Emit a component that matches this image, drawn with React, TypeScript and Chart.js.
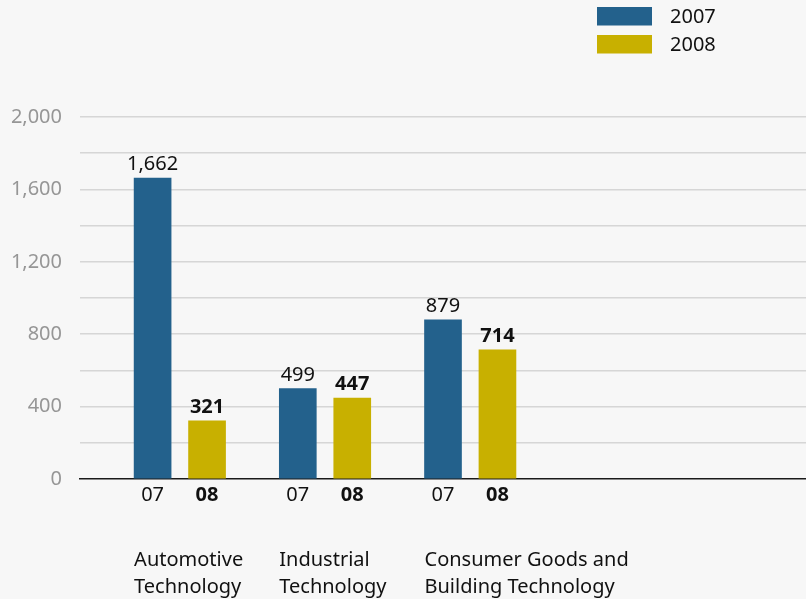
import React, { useEffect, useRef } from "react";
import { Chart, registerables } from "chart.js";

Chart.register(...registerables);

// ---- Data ----
const seriesNames = ["2007", "2008"];
const yearTickLabels = ["07", "08"];
const categoryLines = [
  ["Automotive", "Technology"],
  ["Industrial", "Technology"],
  ["Consumer Goods and", "Building Technology"],
];
const values2007 = [1662, 499, 879];
const values2008 = [321, 447, 714];
const yMax = 2000;
const yStep = 200;
const yLabelStep = 400;

// ---- Layout (slot grid on the category axis) ----
const SLOT_COUNT = 41;
const GROUP_START = [4, 12, 20];
const PAIR_OFFSET = 3;

const COLORS = ["#23618c", "#c8b000"];
const FONT = "'Noto Sans', 'Open Sans', sans-serif";
const FONT_SIZE = 20;

const slotLabels: string[] = Array(SLOT_COUNT).fill("");
const slot2007: (number | null)[] = Array(SLOT_COUNT).fill(null);
const slot2008: (number | null)[] = Array(SLOT_COUNT).fill(null);
GROUP_START.forEach((g, i) => {
  slotLabels[g] = yearTickLabels[0];
  slotLabels[g + PAIR_OFFSET] = yearTickLabels[1];
  slot2007[g] = values2007[i];
  slot2008[g + PAIR_OFFSET] = values2008[i];
});

const fmt = (v: number) => v.toLocaleString("en-US");

const annotationsPlugin = {
  id: "annotations",
  afterDatasetsDraw(chart: any) {
    const ctx = chart.ctx;
    ctx.save();
    // value labels
    chart.data.datasets.forEach((ds: any, di: number) => {
      const meta = chart.getDatasetMeta(di);
      meta.data.forEach((bar: any, idx: number) => {
        const v = ds.data[idx];
        if (v == null) return;
        ctx.font = `${di === 1 ? "bold " : ""}${FONT_SIZE}px ${FONT}`;
        ctx.fillStyle = "#111";
        ctx.textAlign = "center";
        ctx.textBaseline = "alphabetic";
        ctx.fillText(fmt(v), bar.x, bar.y - 8);
      });
    });
    // category names below axis
    const meta0 = chart.getDatasetMeta(0);
    GROUP_START.forEach((g, i) => {
      const bar = meta0.data[g];
      const left = bar.x - bar.width / 2;
      ctx.font = `${FONT_SIZE}px ${FONT}`;
      ctx.fillStyle = "#111";
      ctx.textAlign = "left";
      ctx.textBaseline = "alphabetic";
      categoryLines[i].forEach((line, li) => {
        ctx.fillText(line, left, 566 + li * 27);
      });
    });
    // legend
    seriesNames.forEach((name, i) => {
      ctx.fillStyle = COLORS[i];
      ctx.fillRect(597, 7 + i * 28, 55, 18.5);
      ctx.fillStyle = "#111";
      ctx.font = `${FONT_SIZE}px ${FONT}`;
      ctx.textAlign = "left";
      ctx.textBaseline = "middle";
      ctx.fillText(name, 670, 17 + i * 28);
    });
    ctx.restore();
  },
};

export default function App() {
  const ref = useRef<HTMLCanvasElement | null>(null);
  useEffect(() => {
    if (!ref.current) return;
    const chart = new Chart(ref.current, {
      type: "bar",
      data: {
        labels: slotLabels,
        datasets: [
          {
            label: seriesNames[0],
            data: slot2007,
            backgroundColor: COLORS[0],
            barThickness: 37,
            grouped: false,
          } as any,
          {
            label: seriesNames[1],
            data: slot2008,
            backgroundColor: COLORS[1],
            barThickness: 37,
            grouped: false,
          } as any,
        ],
      },
      options: {
        responsive: false,
        animation: false,
        layout: { padding: { top: 117, right: 0, bottom: 0, left: 0 } },
        plugins: { legend: { display: false }, tooltip: { enabled: false } },
        scales: {
          x: {
            type: "category",
            offset: false,
            afterFit: (scale: any) => {
              scale.height = 120;
              scale.paddingLeft = 0;
              scale.paddingRight = 0;
            },
            grid: { display: false, drawTicks: false },
            border: { display: true, color: "#1a1a1a", width: 1.5 },
            ticks: {
              autoSkip: false,
              maxRotation: 0,
              padding: 4,
              color: "#111",
              font: (c: any) => ({
                family: FONT,
                size: FONT_SIZE,
                weight: c.tick && c.tick.label === yearTickLabels[1] ? "bold" : "normal",
              }),
            },
          },
          y: {
            min: 0,
            max: yMax,
            afterFit: (scale: any) => {
              scale.width = 80;
            },
            border: { display: false },
            grid: {
              drawTicks: false,
              lineWidth: 1.5,
              color: (c: any) => (c.tick && c.tick.value === 0 ? "rgba(0,0,0,0)" : "#d6d6d6"),
            },
            ticks: {
              stepSize: yStep,
              padding: 18,
              color: "#969696",
              font: { family: FONT, size: FONT_SIZE },
              callback: (v: any) => (Number(v) % yLabelStep === 0 ? fmt(Number(v)) : ""),
            },
          },
        },
      },
      plugins: [annotationsPlugin],
    });
    return () => chart.destroy();
  }, []);
  return (
    <div
      style={{
        position: "absolute",
        left: 0,
        top: 0,
        width: 806,
        height: 599,
        background: "#f7f7f7",
      }}
    >
      <canvas ref={ref} width={806} height={599} style={{ display: "block", width: 806, height: 599 }} />
    </div>
  );
}
